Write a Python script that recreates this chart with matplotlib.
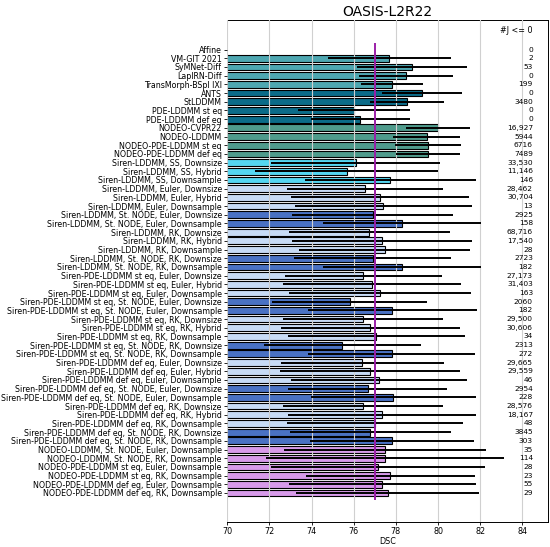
import matplotlib
matplotlib.use("Agg")
import matplotlib.pyplot as plt

methods = [
    "Affine", "VM-GIT 2021", "SyMNet-Diff", "LapIRN-Diff", "TransMorph-BSpl IXI",
    "ANTS", "StLDDMM", "PDE-LDDMM st eq", "PDE-LDDMM def eq",
    "NODEO-CVPR22", "NODEO-LDDMM", "NODEO-PDE-LDDMM st eq", "NODEO-PDE-LDDMM def eq",
    "Siren-LDDMM, SS, Downsize", "Siren-LDDMM, SS, Hybrid", "Siren-LDDMM, SS, Downsample",
    "Siren-LDDMM, Euler, Downsize", "Siren-LDDMM, Euler, Hybrid", "Siren-LDDMM, Euler, Downsample",
    "Siren-LDDMM, St. NODE, Euler, Downsize", "Siren-LDDMM, St. NODE, Euler, Downsample",
    "Siren-LDDMM, RK, Downsize", "Siren-LDDMM, RK, Hybrid", "Siren-LDDMM, RK, Downsample",
    "Siren-LDDMM, St. NODE, RK, Downsize", "Siren-LDDMM, St. NODE, RK, Downsample",
    "Siren-PDE-LDDMM st eq, Euler, Downsize", "Siren-PDE-LDDMM st eq, Euler, Hybrid",
    "Siren-PDE-LDDMM st eq, Euler, Downsample",
    "Siren-PDE-LDDMM st eq, St. NODE, Euler, Downsize", "Siren-PDE-LDDMM st eq, St. NODE, Euler, Downsample",
    "Siren-PDE-LDDMM st eq, RK, Downsize", "Siren-PDE-LDDMM st eq, RK, Hybrid",
    "Siren-PDE-LDDMM st eq, RK, Downsample",
    "Siren-PDE-LDDMM st eq, St. NODE, RK, Downsize", "Siren-PDE-LDDMM st eq, St. NODE, RK, Downsample",
    "Siren-PDE-LDDMM def eq, Euler, Downsize", "Siren-PDE-LDDMM def eq, Euler, Hybrid",
    "Siren-PDE-LDDMM def eq, Euler, Downsample",
    "Siren-PDE-LDDMM def eq, St. NODE, Euler, Downsize", "Siren-PDE-LDDMM def eq, St. NODE, Euler, Downsample",
    "Siren-PDE-LDDMM def eq, RK, Downsize", "Siren-PDE-LDDMM def eq, RK, Hybrid",
    "Siren-PDE-LDDMM def eq, RK, Downsample",
    "Siren-PDE-LDDMM def eq, St. NODE, RK, Downsize", "Siren-PDE-LDDMM def eq, St. NODE, RK, Downsample",
    "NODEO-LDDMM, St. NODE, Euler, Downsample", "NODEO-LDDMM, St. NODE, RK, Downsample",
    "NODEO-PDE-LDDMM st eq, Euler, Downsample", "NODEO-PDE-LDDMM st eq, RK, Downsample",
    "NODEO-PDE-LDDMM def eq, Euler, Downsample", "NODEO-PDE-LDDMM def eq, RK, Downsample",
]

dsc_mean = [
    57.0, 77.69, 78.76, 78.47, 77.81,
    79.24, 78.52, 75.99, 76.31,
    79.99, 79.46, 79.52, 79.51,
    76.09, 75.66, 77.74,
    76.53, 77.23, 77.41,
    76.89, 78.29,
    76.74, 77.36, 77.46,
    76.89, 78.29,
    76.46, 76.86, 77.23,
    75.81, 77.83,
    76.44, 76.79, 77.06,
    75.46, 77.81,
    76.41, 76.76, 77.21,
    76.66, 77.88,
    76.44, 77.33, 76.99,
    76.79, 77.81,
    77.48, 77.48,
    77.14, 77.74,
    77.36, 77.61,
]

dsc_std = [
    2.5, 2.92, 2.59, 2.23, 1.48,
    1.90, 1.77, 2.66, 2.35,
    1.51, 1.58, 1.56, 1.52,
    4.00, 4.33, 4.04,
    3.70, 4.23, 4.20,
    3.83, 3.75,
    3.82, 4.27, 4.06,
    3.71, 3.76,
    3.73, 4.21, 4.31,
    3.68, 4.00,
    3.79, 4.25, 4.20,
    3.73, 3.96,
    3.85, 4.28, 4.18,
    3.77, 3.90,
    3.80, 4.47, 4.17,
    3.81, 3.90,
    4.78, 5.65,
    5.08, 4.03,
    4.45, 4.35,
]

neg_jac = [
    0, 2, 53, 0, 199,
    0, 3480, 0, 0,
    16927, 5944, 6716, 7489,
    33530, 11146, 146,
    28462, 30704, 13,
    2925, 158,
    68716, 17540, 28,
    2723, 182,
    27173, 31403, 163,
    2060, 182,
    29500, 30606, 34,
    2313, 272,
    29665, 29559, 46,
    2954, 228,
    28576, 18167, 48,
    3845, 303,
    35, 114,
    28, 23,
    55, 29,
]

group_colors = {
    "dl": "#4ea7b1",
    "opt": "#0b6b88",
    "nodeo": "#4f9b8c",
    "ss": "#55d6f1",
    "siren": "#c7dbf5",
    "stnode": "#4a72c3",
    "nodeo_new": "#d79ae9",
}

def group_of(name, i):
    if i <= 4:
        return "dl"
    if i <= 8:
        return "opt"
    if i <= 12:
        return "nodeo"
    if name.startswith("NODEO"):
        return "nodeo_new"
    if ", SS," in name:
        return "ss"
    if "St. NODE" in name:
        return "stnode"
    return "siren"

colors = [group_colors[group_of(n, i)] for i, n in enumerate(methods)]
reference_dsc = 77.0

fig = plt.figure(figsize=(5.5, 5.47), dpi=100)
ax = fig.add_axes([0.4133, 0.0463, 0.9958 - 0.4133, 0.9634 - 0.0463])

y = list(range(len(methods)))
ax.barh(y, dsc_mean, height=0.78, color=colors, edgecolor="black",
        linewidth=0.8, zorder=2)
ax.errorbar(dsc_mean, y, xerr=dsc_std, fmt="none", ecolor="black",
            elinewidth=1.4, capsize=0, zorder=4)
ax.vlines(reference_dsc, -0.75, len(methods) - 0.25, color="#9b1fa8",
          linewidth=1.4, zorder=5)

ax.set_xlim(70, 85.2)
ax.set_ylim(54.3, -3.4)
ax.set_xticks([70, 72, 74, 76, 78, 80, 82, 84])
ax.grid(axis="x", color="#d0d0d0", linewidth=0.8, zorder=3)
ax.set_axisbelow(False)
ax.set_yticks(y)
ax.set_yticklabels(methods, fontsize=5.7)
ax.tick_params(axis="x", labelsize=5.8, length=2.5, width=0.6, pad=1.5)
ax.tick_params(axis="y", length=2.5, width=0.6, pad=1.5)
ax.set_xlabel("DSC", fontsize=5.8, labelpad=0.5)
ax.set_title("OASIS-L2R22", fontsize=10, pad=3)
for s in ax.spines.values():
    s.set_linewidth(0.7)

def fmt(v):
    return f"{v:,}" if v >= 10000 else str(v)

ax.text(84.5, -2.2, "#J <= 0", ha="right", va="center", fontsize=5.8)
for i, v in enumerate(neg_jac):
    ax.text(84.5, i, fmt(v), ha="right", va="center", fontsize=5.4)

fig.savefig("out.png", dpi=100)
